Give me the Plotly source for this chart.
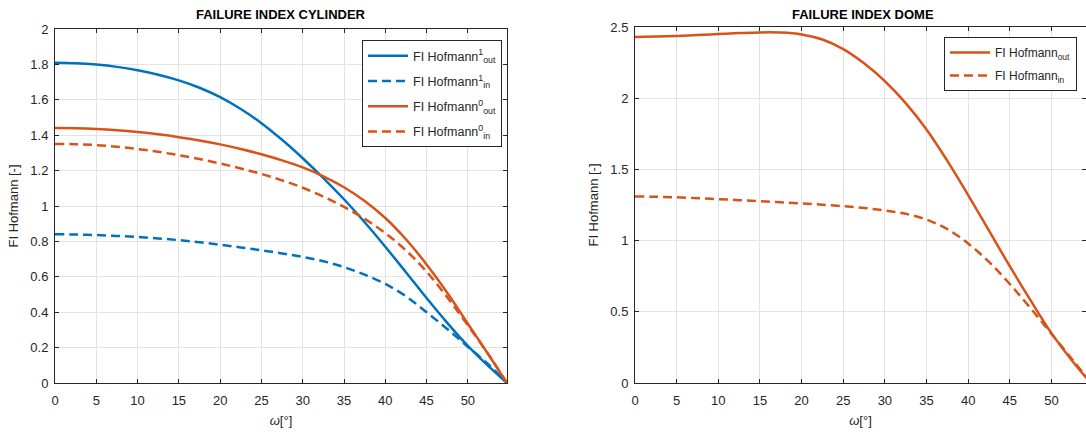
import plotly.graph_objects as go

# ---------------- data ----------------
omega = [0, 2.5, 5, 7.5, 10, 12.5, 15, 17.5, 20, 22.5, 25, 27.5, 30, 32.5,
         35, 37.5, 40, 42.5, 45, 47.5, 50, 52.5, 54.74]

cyl_out_1 = [1.81, 1.807, 1.799, 1.786, 1.767, 1.742, 1.710, 1.668, 1.615, 1.548, 1.468,
             1.374, 1.270, 1.158, 1.038, 0.908, 0.770, 0.626, 0.480, 0.340, 0.210, 0.095, 0.0]
cyl_in_1 = [0.84, 0.839, 0.836, 0.831, 0.825, 0.817, 0.807, 0.795, 0.781, 0.766, 0.750,
            0.732, 0.712, 0.688, 0.655, 0.612, 0.560, 0.490, 0.400, 0.305, 0.205, 0.105, 0.0]
cyl_out_0 = [1.44, 1.439, 1.435, 1.428, 1.418, 1.405, 1.389, 1.370, 1.348, 1.322, 1.292,
             1.258, 1.218, 1.168, 1.106, 1.028, 0.932, 0.812, 0.670, 0.510, 0.335, 0.160, 0.0]
cyl_in_0 = [1.35, 1.349, 1.344, 1.335, 1.322, 1.306, 1.287, 1.265, 1.240, 1.212, 1.181,
            1.145, 1.103, 1.053, 0.995, 0.927, 0.847, 0.749, 0.629, 0.484, 0.326, 0.161, 0.0]

dome_out = [2.43, 2.433, 2.437, 2.443, 2.450, 2.457, 2.462, 2.461, 2.448, 2.412, 2.345,
            2.245, 2.120, 1.965, 1.780, 1.560, 1.320, 1.070, 0.820, 0.580, 0.350, 0.155, 0.0]
dome_in = [1.31, 1.308, 1.304, 1.298, 1.291, 1.284, 1.277, 1.269, 1.261, 1.252, 1.242,
           1.229, 1.212, 1.188, 1.148, 1.080, 0.980, 0.850, 0.695, 0.525, 0.345, 0.165, 0.0]

x_ticks = [0, 5, 10, 15, 20, 25, 30, 35, 40, 45, 50]

BLUE = "#0072BD"
ORANGE = "#D95319"
DASH = "9px,5px"
FONT = "Liberation Sans, Arial, sans-serif"

fig = go.Figure()

def add(x, y, name, color, dash, xa, ya, legend, group):
    fig.add_trace(go.Scatter(
        x=x, y=y, mode="lines", name=name,
        line=dict(color=color, width=2.5, dash=dash, shape="spline", smoothing=1.0),
        xaxis=xa, yaxis=ya, legend=legend, legendgroup=group,
    ))

add(omega, cyl_out_1, "FI Hofmann<sup>1</sup><sub>out</sub>", BLUE, "solid", "x", "y", "legend", "a")
add(omega, cyl_in_1, "FI Hofmann<sup>1</sup><sub>in</sub>", BLUE, DASH, "x", "y", "legend", "b")
add(omega, cyl_out_0, "FI Hofmann<sup>0</sup><sub>out</sub>", ORANGE, "solid", "x", "y", "legend", "c")
add(omega, cyl_in_0, "FI Hofmann<sup>0</sup><sub>in</sub>", ORANGE, DASH, "x", "y", "legend", "d")

add(omega, dome_out, "FI Hofmann<sub>out</sub>", ORANGE, "solid", "x2", "y2", "legend2", "e")
add(omega, dome_in, "FI Hofmann<sub>in</sub>", ORANGE, DASH, "x2", "y2", "legend2", "f")

H = 432
W = 1086
ybot = (H - 383) / H
ytop_l = (H - 29) / H
ytop_r = (H - 27) / H

axis_common = dict(
    showline=True, linecolor="#262626", linewidth=1, mirror="ticks",
    ticks="inside", ticklen=4, tickcolor="#262626",
    showgrid=True, gridcolor="#e3e3e3", gridwidth=1, automargin=False,
    zeroline=False, tickfont=dict(family=FONT, size=13, color="#262626"),
)

xt = dict(text="<i>ω</i>[°]", standoff=9, font=dict(size=13))
yt = dict(text="FI Hofmann [-]", standoff=8, font=dict(size=13))

fig.update_layout(
    width=W, height=H,
    margin=dict(l=0, r=0, t=0, b=0),
    paper_bgcolor="white", plot_bgcolor="white",
    font=dict(family=FONT, size=13, color="#262626"),
    xaxis=dict(domain=[55 / W, 507 / W], range=[0, 54.74], tickvals=x_ticks,
               anchor="y", title=xt, ticklabelstandoff=5, **axis_common),
    yaxis=dict(domain=[ybot, ytop_l], range=[0, 2], dtick=0.2, anchor="x",
               title=yt, ticklabelstandoff=3, **axis_common),
    xaxis2=dict(domain=[635 / W, 1.0], range=[0, 54.15], tickvals=x_ticks,
                anchor="y2", title=xt, ticklabelstandoff=5, **axis_common),
    yaxis2=dict(domain=[ybot, ytop_r], range=[0, 2.5], dtick=0.5, anchor="x2",
                title=yt, ticklabelstandoff=3, **axis_common),
    legend=dict(x=362 / W, y=(H - 40) / H, xanchor="left", yanchor="top",
                bgcolor="white", bordercolor="#262626", borderwidth=1,
                font=dict(family=FONT, size=12.5, color="#262626"),
                tracegroupgap=6, itemwidth=40),
    legend2=dict(x=944 / W, y=(H - 37) / H, xanchor="left", yanchor="top",
                 bgcolor="white", bordercolor="#262626", borderwidth=1,
                 font=dict(family=FONT, size=12, color="#262626"),
                 tracegroupgap=4, itemwidth=40),
    annotations=[
        dict(text="<b>FAILURE INDEX CYLINDER</b>", x=(55 + 507) / 2 / W, y=(H - 15) / H,
             xref="paper", yref="paper", showarrow=False, xanchor="center",
             yanchor="middle", font=dict(family=FONT, size=13, color="black")),
        dict(text="<b>FAILURE INDEX DOME</b>", x=(635 + 1091) / 2 / W, y=(H - 15) / H,
             xref="paper", yref="paper", showarrow=False, xanchor="center",
             yanchor="middle", font=dict(family=FONT, size=13, color="black")),
    ],
)

fig.write_html("out.html", config={"displayModeBar": False},
               post_script="document.body.style.margin='0';document.body.style.overflow='hidden';")
